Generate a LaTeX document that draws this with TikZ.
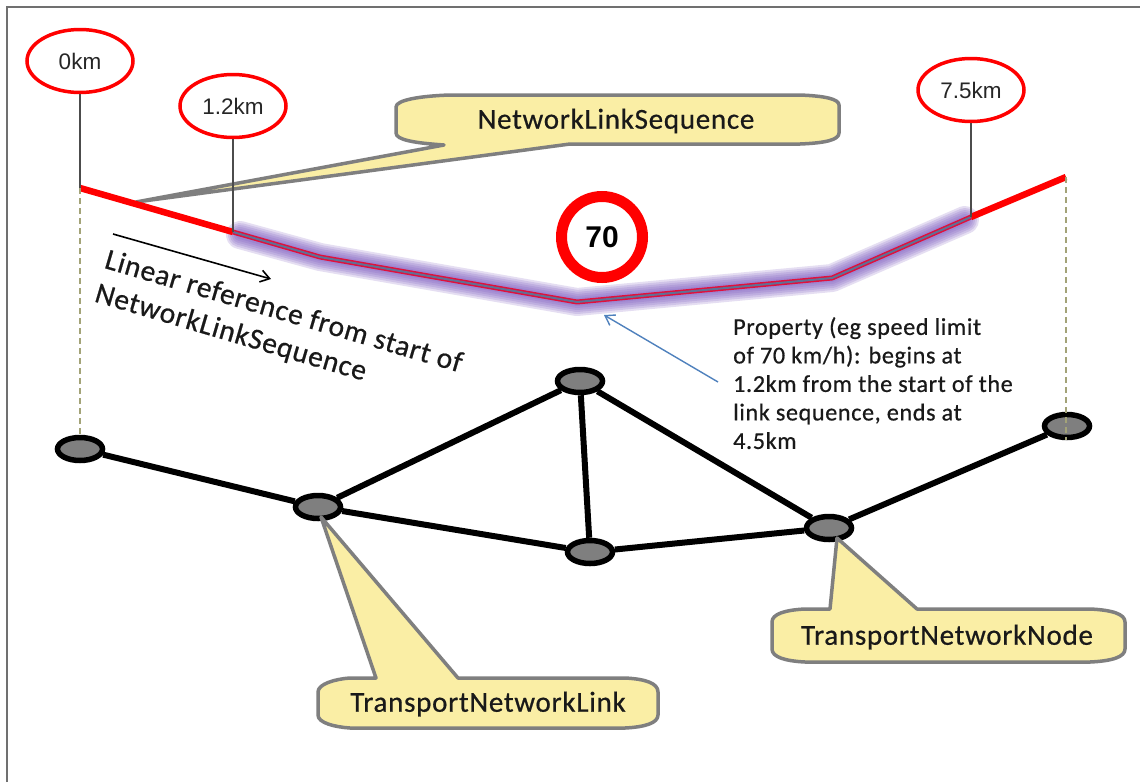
\documentclass[tikz,border=0pt]{standalone}
\usepackage{fontspec}
\setmainfont[FakeBold=0.6,LetterSpace=2.5]{Carlito}
\newfontfamily\arialf{Liberation Sans}
\usetikzlibrary{shapes.geometric,arrows.meta}
\definecolor{calloutfill}{HTML}{FAEEA5}
\definecolor{calloutedge}{HTML}{7F7F7F}
\definecolor{framegray}{HTML}{707070}
\definecolor{nodegray}{HTML}{7F7F7F}
\definecolor{dashcolor}{HTML}{A3A378}
\definecolor{glowcolor}{HTML}{7E5CC0}
\definecolor{bluearrow}{HTML}{4F81BD}
\definecolor{redcore}{HTML}{5F7196}
\definecolor{redline}{HTML}{E0103C}
\tikzset{
  kmlabel/.style={ellipse,draw=red,fill=white,line width=3.5pt,minimum width=106pt,minimum height=63pt,inner sep=0pt,font=\arialf\fontsize{22.5}{26}\selectfont,text=black!85},
  netnode/.style={ellipse,draw=black,fill=nodegray,line width=5.5pt,minimum width=45pt,minimum height=23pt,inner sep=0pt},
  netlink/.style={draw=black,line width=6pt},
  tick/.style={draw=black!70,line width=1.6pt},
  droplink/.style={draw=dashcolor,line width=2pt,dash pattern=on 6pt off 4pt},
  callout/.style={draw=calloutedge,fill=calloutfill,line width=3.5pt,line join=round},
  callouttext/.style={font=\fontsize{29}{32}\selectfont,text=black!90,inner sep=0pt},
  sign/.style={circle,draw=red,fill=white,line width=11pt,minimum size=81pt,inner sep=0pt,font=\arialf\bfseries\fontsize{30}{34}\selectfont},
  note/.style={font=\fontsize{24.2}{28.5}\selectfont,align=left,inner sep=0pt,text=black!90},
  refnote/.style={font=\fontsize{29.5}{35}\selectfont,align=left,inner sep=0pt,text=black!90,rotate=-16.4,anchor=north west},
}
\begin{document}
\begin{tikzpicture}[x=1pt,y=-1pt]
\useasboundingbox (0,0) rectangle (1140,782);
\fill[white] (0,0) rectangle (1140,782);
\draw[framegray,line width=2pt] (7,782) -- (7,7) -- (1140,7);

\coordinate (s0) at (80,188);
\coordinate (s1) at (233,232);
\coordinate (s2) at (320,257);
\coordinate (s3) at (577,302);
\coordinate (s4) at (832,278);
\coordinate (s5) at (971,217);
\coordinate (s6) at (1066,177);
\coordinate (d0) at (80,437);
\coordinate (d1) at (1066,440);

% callout behind the ticks
\draw[callout] (396,107) .. controls (396,100) and (420,96) .. (450,95) -- (800,95)
  .. controls (825,96) and (839,99) .. (839,105) -- (839,133)
  .. controls (839,140) and (825,143) .. (800,144) -- (570,144) -- (136,202) -- (444,145)
  .. controls (415,143) and (396,140) .. (396,133) -- cycle;
\node[callouttext] (nls) at (616,121) {NetworkLinkSequence};

% glow
\foreach \w in {28,24,20,16,12,8}{
  \draw[glowcolor,opacity=.2,line width=\w pt,line join=round,line cap=round]
    (240,235) -- (s2) -- (s3) -- (s4) -- (965,220);
}
% lines
\draw[red,line width=6.5pt,line join=round] (s0) -- (s1);
\draw[red,line width=6.5pt] (s5) -- (s6);
\draw[redline,line width=5pt,line join=round] (s1) -- (s2) -- (s3) -- (s4) -- (s5);
\draw[redcore,line width=2pt,line join=round] (s1) -- (s2) -- (s3) -- (s4) -- (s5);

% km labels
\node[kmlabel] (km0) at (80,61) {0km};
\node[kmlabel] (km1) at (233,106) {1.2km};
\node[kmlabel] (km2) at (971,90) {7.5km};
\draw[tick] (km0.south) -- (s0);
\draw[tick] (km1.south) -- (s1);
\draw[tick] (km2.south) -- (s5);

% sign
\node[sign] (limit) at (602,237) {70};

% network
\node[netnode] (n1) at (80,449) {};
\node[netnode] (n2) at (318,507) {};
\node[netnode] (n3) at (580,381) {};
\node[netnode] (n4) at (590,552) {};
\node[netnode] (n5) at (829,528) {};
\node[netnode] (n6) at (1067,426) {};
\draw[netlink] (n1) -- (n2);
\draw[netlink] (n2) -- (n3);
\draw[netlink] (n2) -- (n4);
\draw[netlink] (n3) -- (n4);
\draw[netlink] (n3) -- (n5);
\draw[netlink] (n4) -- (n5);
\draw[netlink] (n5) -- (n6);

% dashed drops
\draw[droplink] (s0) -- (d0);
\draw[droplink] (s6) -- (d1);

% arrows and notes
\coordinate (ra) at (113,234);
\coordinate (rb) at (271,279);
\draw[black,line width=1.6pt,-{Straight Barb[length=9pt,width=12pt]}] (ra) -- (rb);
\node[refnote] (ref) at (109,248) {Linear reference from start of\\NetworkLinkSequence};

\node[note,anchor=north west] (prop) at (733,317) {Property (eg speed limit\\of 70 km/h): begins at\\1.2km from the start of the\\link sequence, ends at\\4.5km};
\coordinate (pa) at (718,382);
\coordinate (pb) at (604,315);
\draw[bluearrow,line width=1.4pt,-{Straight Barb[length=9pt,width=12pt]}] (pa) -- (pb);

% bottom callouts
\draw[callout] (318,692) .. controls (318,684) and (335,679) .. (350,678) -- (376,678) -- (321,517) -- (458,678) -- (625,678)
  .. controls (645,679) and (658,683) .. (658,692) -- (658,715)
  .. controls (658,723) and (645,727) .. (625,728) -- (350,728)
  .. controls (335,727) and (318,723) .. (318,715) -- cycle;
\node[callouttext] (tnl) at (488,704) {TransportNetworkLink};

\draw[callout] (772,622) .. controls (772,614) and (785,610) .. (805,609) -- (830,609) -- (837,538) -- (917,609) -- (1090,609)
  .. controls (1112,610) and (1125,614) .. (1125,622) -- (1125,649)
  .. controls (1125,657) and (1112,661) .. (1090,662) -- (805,662)
  .. controls (785,661) and (772,657) .. (772,649) -- cycle;
\node[callouttext] (tnn) at (947,637) {TransportNetworkNode};
\end{tikzpicture}
\end{document}
